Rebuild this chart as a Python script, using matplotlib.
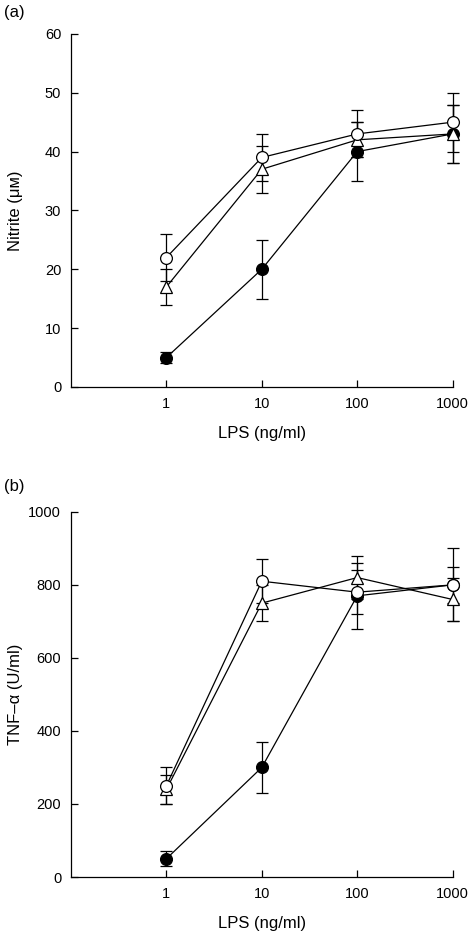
import matplotlib.pyplot as plt
import numpy as np

plt.rcParams['font.family'] = ['Liberation Sans', 'DejaVu Sans']

lps = [1, 10, 100, 1000]

# panel (a) nitrite, uM
nit_open = [22, 39, 43, 45]
nit_open_err = [4, 4, 4, 5]
nit_tri = [17, 37, 42, 43]
nit_tri_err = [3, 4, 3, 5]
nit_fill = [5, 20, 40, 43]
nit_fill_err = [1, 5, 5, 5]

# panel (b) TNF-alpha, U/ml
tnf_open = [250, 810, 780, 800]
tnf_open_err = [50, 60, 60, 100]
tnf_tri = [240, 750, 820, 760]
tnf_tri_err = [40, 50, 60, 60]
tnf_fill = [50, 300, 770, 800]
tnf_fill_err = [20, 70, 90, 50]

fig = plt.figure(figsize=(4.7, 9.34), dpi=100)
ax1 = fig.add_axes([0.151, 0.5857, 0.812, 0.378])
ax2 = fig.add_axes([0.151, 0.061, 0.812, 0.391])


def series(ax, y, err, marker, mfc, ms):
    ax.errorbar(lps, y, yerr=err, fmt='-' + marker, color='black', mfc=mfc,
                mec='black', ms=ms, mew=0.9, lw=0.9, elinewidth=0.9,
                capsize=4, capthick=0.9, clip_on=False)


def style(ax, ymax, step):
    ax.set_xscale('log')
    ax.set_xlim(0.1, 1000)
    ax.set_ylim(0, ymax)
    ax.set_xticks(lps)
    ax.set_xticklabels(['1', '10', '100', '1000'])
    ax.minorticks_off()
    ax.set_yticks(np.arange(0, ymax + 1, step))
    for s in ['top', 'right']:
        ax.spines[s].set_visible(False)
    for s in ['left', 'bottom']:
        ax.spines[s].set_linewidth(0.9)
    ax.tick_params(direction='in', length=5, width=0.9, labelsize=10.5, pad=7)
    ax.set_xlabel('LPS (ng/ml)', fontsize=12, labelpad=11)
    ax.yaxis.set_label_coords(-0.125, 0.5)


series(ax1, nit_fill, nit_fill_err, 'o', 'black', 8.5)
series(ax1, nit_tri, nit_tri_err, '^', 'white', 9)
series(ax1, nit_open, nit_open_err, 'o', 'white', 8.5)
style(ax1, 60, 10)
ax1.set_ylabel('Nitrite (μᴍ)', fontsize=12)

series(ax2, tnf_fill, tnf_fill_err, 'o', 'black', 8.5)
series(ax2, tnf_tri, tnf_tri_err, '^', 'white', 9)
series(ax2, tnf_open, tnf_open_err, 'o', 'white', 8.5)
style(ax2, 1000, 200)
ax2.set_ylabel('TNF–α (U/ml)', fontsize=12)

fig.text(0.008, 0.995, '(a)', fontsize=12, va='top')
fig.text(0.008, 0.487, '(b)', fontsize=12, va='top')

fig.savefig('out.png', dpi=100)
